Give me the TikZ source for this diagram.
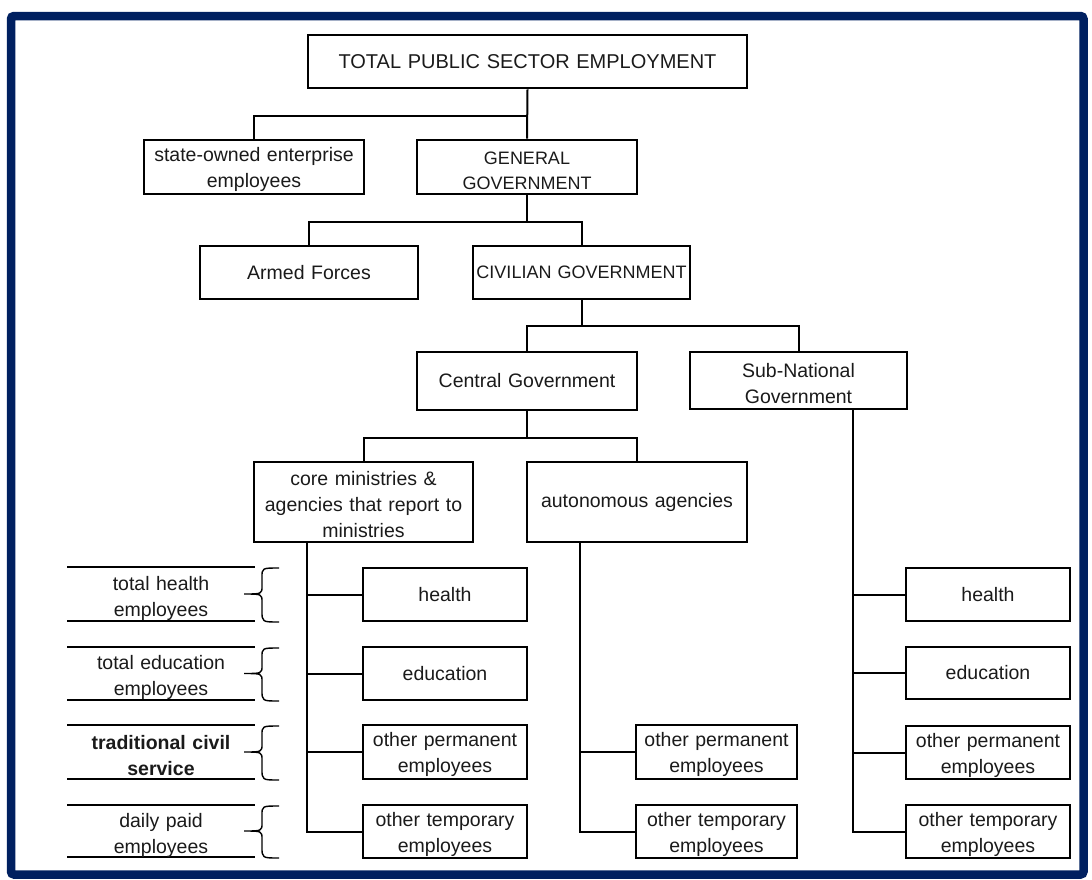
\documentclass[tikz,border=0pt]{standalone}
\usepackage{fontspec}
\setmainfont{Liberation Sans}
\definecolor{framenavy}{HTML}{002060}
\definecolor{textgray}{HTML}{1A1A1A}
\newcommand{\myfs}{\fontsize{19.5}{26}\selectfont}
\newcommand{\mycapfs}{\fontsize{18}{25}\selectfont}
\newcommand{\mytopfs}{\fontsize{20}{25}\selectfont}
\newcommand{\mystrut}{\rule{0pt}{20pt}}
\begin{document}
\begin{tikzpicture}[x=1pt,y=-1pt,
  box/.style={draw, line width=2.7pt, inner sep=0pt, align=center, font=\myfs, text=textgray},
  bx/.style 2 args={minimum width=#1pt, text width=#1pt, minimum height=#2pt},
  conn/.style={line width=2pt},
  labline/.style={line width=2.2pt},
  brc/.style={line width=1.4pt},
  labtext/.style={inner sep=0pt, align=center, font=\myfs, text width=188pt, text=textgray}]
\useasboundingbox (0,0) rectangle (1092,879);
\draw[framenavy, line width=8.5pt, rounded corners=3pt] (11,16) rectangle (1083.5,874.5);

% main hierarchy
\node[box, bx={439}{53}, font=\mytopfs] (total) at (527.5,61.5) {TOTAL PUBLIC SECTOR EMPLOYMENT};
\node[box, bx={220}{54}] (soe) at (254,167) {\mystrut state-owned enterprise\\employees};
\node[box, bx={220}{54}, font=\mycapfs] (gen) at (527,167) {\mystrut GENERAL\\GOVERNMENT};
\node[box, bx={218}{53}] (armed) at (309,272.5) {Armed Forces};
\node[box, bx={217}{53}, font=\mycapfs] (civ) at (581.5,272.5) {CIVILIAN GOVERNMENT};
\node[box, bx={220}{58}] (central) at (527,381) {Central Government};
\node[box, bx={217}{57}] (subnat) at (798.5,380.5) {\mystrut Sub-National\\Government};
\node[box, bx={219}{80}] (core) at (363.5,502) {\mystrut core ministries \&\\agencies that report to\\ministries};
\node[box, bx={220}{80}] (auto) at (637,502) {autonomous agencies};

% core column
\node[box, bx={164}{53}] (lh) at (445,594.5) {health};
\node[box, bx={164}{53}] (le) at (445,673.5) {education};
\node[box, bx={164}{54}] (lp) at (445,752) {\mystrut other permanent\\employees};
\node[box, bx={164}{53}] (lt) at (445,831.5) {\mystrut other temporary\\employees};

% autonomous column
\node[box, bx={161}{54}] (ap) at (716.5,752) {\mystrut other permanent\\employees};
\node[box, bx={161}{53}] (at) at (716.5,831.5) {\mystrut other temporary\\employees};

% sub-national column
\node[box, bx={164}{53}] (sh) at (988,594.5) {health};
\node[box, bx={164}{52}] (se) at (988,673) {education};
\node[box, bx={164}{53}] (sp) at (988,752.5) {\mystrut other permanent\\employees};
\node[box, bx={164}{53}] (st) at (988,831.5) {\mystrut other temporary\\employees};

% connectors
\draw[conn] (total.south) -- (gen.north);
\draw[conn] (total.south) ++(0,27) -| (soe.north);
\draw[conn] (gen.south) -- ++(0,27) -| (armed.north);
\draw[conn] (gen.south) -- ++(0,27) -| (civ.north);
\draw[conn] (civ.south) -- ++(0,26) -| (central.north);
\draw[conn] (civ.south) -- ++(0,26) -| (subnat.north);
\draw[conn] (central.south) -- ++(0,27) -| (core.north);
\draw[conn] (central.south) -- ++(0,27) -| (auto.north);

\foreach \b in {lh,le,lp,lt}
  \draw[conn] ([xshift=54pt]core.south west) |- (\b.west);
\foreach \b in {ap,at}
  \draw[conn] ([xshift=54pt]auto.south west) |- (\b.west);
\foreach \b in {sh,se,sp,st}
  \draw[conn] ([xshift=-55pt]subnat.south east) |- (\b.west);

% left labels
\foreach \t/\b in {567/621, 647/700, 725/779, 805/857}{
  \draw[labline] (67,\t) -- (255,\t);
  \draw[labline] (67,\b) -- (255,\b);
  \pgfmathsetmacro{\m}{(\t+\b)/2}
  \draw[brc] (279,\t+1) .. controls (262,\t+1) and (262,\t+1) .. (262,\t+10)
     -- (262,\m-8) .. controls (262,\m) and (262,\m) .. (244,\m)
     .. controls (262,\m) and (262,\m) .. (262,\m+8)
     -- (262,\b-10) .. controls (262,\b+1) and (262,\b+1) .. (279,\b+1);
}
\node[labtext] (tlh) at (161,598) {total health\\employees};
\node[labtext] (tle) at (161,677.5) {total education\\employees};
\node[labtext, font=\myfs\bfseries] (tcs) at (161,756) {traditional civil\\service};
\node[labtext] (tdp) at (161,835) {daily paid\\employees};
\end{tikzpicture}
\end{document}
